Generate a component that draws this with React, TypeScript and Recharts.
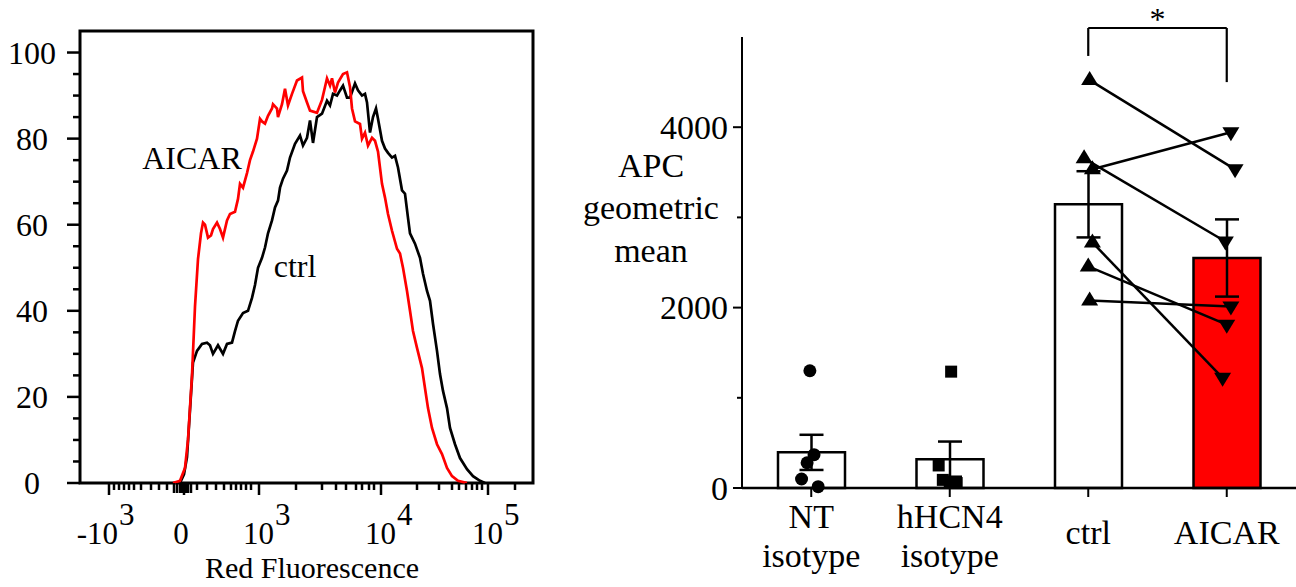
import {
  Bar,
  Cell,
  ComposedChart,
  ErrorBar,
  Line,
  ReferenceArea,
  ReferenceDot,
  ReferenceLine,
  Scatter,
  XAxis,
  YAxis,
} from "recharts";

const SERIF = '"Liberation Serif", "Times New Roman", serif';
const RED = "#ff0000";

// flow histogram, [display channel (biexponential), % of max]
const ctrlHist: [number, number][] = [
  [100, 0], [104, 2], [107, 6], [110, 17], [113, 28], [117, 30.7], [122, 32.3], [127, 32.6],
  [130, 32], [133, 30], [138, 32], [143, 30], [147, 32.3], [152, 32.6], [155, 35.3], [158, 37.7],
  [163, 39.5], [168, 40], [172, 43], [175, 46], [178, 50], [182, 52.3], [185, 54.7], [188, 58],
  [192, 61], [195, 64], [198, 65.6], [200, 68.6], [203, 70.7], [207, 72.6], [210, 75.6], [215, 78.8],
  [220, 80.7], [223, 78.4], [227, 80.2], [230, 84.2], [233, 79], [237, 85], [242, 85.8], [247, 88.8],
  [250, 87.7], [253, 90.4], [257, 90], [260, 91.2], [263, 92.3], [267, 89.5], [270, 89.5], [275, 92.8],
  [278, 91.2], [282, 90], [285, 90.4], [287, 88.4], [290, 81.4], [293, 85], [296, 87], [298, 84.6],
  [302, 79.5], [305, 77.7], [308, 76.7], [312, 75.6], [315, 76], [318, 73.3], [322, 68], [325, 67.2],
  [328, 61.6], [330, 58], [335, 55.6], [340, 52.3], [343, 48.6], [347, 44.6], [350, 42.3], [353, 37],
  [357, 30.7], [360, 25.3], [363, 21.4], [367, 17.4], [370, 12.8], [375, 9], [380, 5.8], [387, 3.2],
  [393, 1.6], [400, 0.5], [405, 0],
];

const aicarHist: [number, number][] = [
  [93, 0], [100, 0.5], [105, 3.5], [108, 10], [112, 25], [115, 41], [118, 52], [121, 58],
  [123, 60.5], [125, 60], [128, 57], [131, 57.5], [133, 59], [137, 60.5], [140, 59], [143, 57],
  [147, 61], [150, 62.5], [155, 63], [158, 66], [160, 69.5], [163, 68.6], [167, 72], [170, 75],
  [173, 77], [177, 80], [180, 84.6], [182, 84], [185, 83.5], [188, 85.3], [192, 87], [193, 88],
  [197, 87], [198, 85], [202, 88], [205, 91.6], [208, 87.7], [212, 90.4], [217, 93.5], [222, 94.2],
  [223, 91], [227, 88.4], [230, 86.5], [237, 86], [242, 89], [245, 92], [247, 94], [250, 92.3],
  [252, 94], [255, 90.7], [258, 93], [263, 95], [267, 95.4], [270, 92], [272, 87], [275, 84],
  [280, 83.4], [282, 80], [285, 81.4], [288, 78.4], [292, 80.2], [295, 79.5], [298, 77], [302, 69.5],
  [305, 66.3], [308, 62.5], [312, 58.6], [317, 54.4], [320, 53.3], [323, 50], [327, 44.6], [330, 40],
  [333, 35.3], [337, 31.4], [342, 26.7], [345, 22], [348, 17.4], [352, 12.8], [357, 9], [362, 6.7],
  [367, 3.5], [372, 1.6], [378, 0.5], [387, 0],
];

const histYTicks = [0, 5, 10, 15, 20, 25, 30, 35, 40, 45, 50, 55, 60, 65, 70, 75, 80, 85, 90, 95, 100];
const decadeTicks = [29, 104, 179, 301, 408];
const decadeBase = ["-10", "0", "10", "10", "10"];
const decadePow = ["3", "", "3", "4", "5"];
const zeroCluster = [94, 97, 100, 102, 106, 108, 111];
const minorTicks = [
  34, 39, 44, 49, 54, 61, 71, 79, 87, 117, 127, 136, 144, 151, 156, 161, 166, 171,
  216, 242, 256, 266, 276, 282, 289, 294, 337, 359, 372, 379, 386, 392, 397, 402, 435,
];

// APC geometric mean panel
const groups = ["NT isotype", "hHCN4 isotype", "ctrl", "AICAR"];
const groupMean = [395, 320, 3145, 2550];
const groupSem = [195, 195, 367, 428];
const apcTicks = [0, 1000, 2000, 3000, 4000];

const ntX = [0.49, 0.52, 0.47, 0.43, 0.55];
const ntY = [1300, 370, 280, 100, 15];
const hcnX = [1.51, 1.42, 1.45, 1.5, 1.55];
const hcnY = [1290, 250, 90, 60, 55];
// paired donors: ctrl[i] -> aicar[i]
const ctrlX = [2.51, 2.53, 2.47, 2.53, 2.5, 2.51];
const ctrlY = [4522, 3533, 3655, 2722, 2456, 2078];
const aicarX = [3.56, 3.53, 3.49, 3.47, 3.5, 3.53];
const aicarY = [3533, 3944, 2733, 1222, 1811, 2011];

const tickSet = new Set(decadeTicks);
const clusterSet = new Set(zeroCluster);

function HistXTick({ x, y, payload }: any) {
  const v = payload.value;
  const i = decadeTicks.indexOf(v);
  const len = tickSet.has(v) ? 12 : clusterSet.has(v) ? 10 : 7;
  const neg = decadeBase[i]?.startsWith("-");
  return (
    <g>
      <line x1={x} x2={x} y1={y} y2={y + len} stroke="#000" strokeWidth={2.5} />
      {i >= 0 && decadePow[i] === "" && (
        <text x={x - 3} y={y + 61} textAnchor="middle" fontSize={31} fontFamily={SERIF} fill="#000">
          {decadeBase[i]}
        </text>
      )}
      {i >= 0 && decadePow[i] !== "" && (
        <g fontSize={31} fontFamily={SERIF} fill="#000">
          <text x={x + (neg ? 9 : 15)} y={y + 61} textAnchor="end">{decadeBase[i]}</text>
          <text x={x + (neg ? 10 : 16)} y={y + 42} textAnchor="start">{decadePow[i]}</text>
        </g>
      )}
    </g>
  );
}

function HistYTick({ x, y, payload }: any) {
  const v = payload.value;
  const major = v % 20 === 0;
  return (
    <g>
      <line x1={x - (major ? 13 : 7)} x2={x} y1={y} y2={y} stroke="#000" strokeWidth={2.5} />
      {major && (
        <text x={x - 48} y={y} textAnchor="middle" dominantBaseline="central" fontSize={32} fontFamily={SERIF} fill="#000">
          {v}
        </text>
      )}
    </g>
  );
}

function HistTitle() {
  return (
    <text x={312} y={578} textAnchor="middle" fontSize={30} fontFamily={SERIF} fill="#000">
      Red Fluorescence
    </text>
  );
}

function Histogram() {
  const ctrl = ctrlHist.map(([ch, pct]) => ({ ch, pct }));
  const aicar = aicarHist.map(([ch, pct]) => ({ ch, pct }));
  const xTicks = [...decadeTicks, ...zeroCluster, ...minorTicks].sort((a, b) => a - b);
  return (
    <ComposedChart width={560} height={587} margin={{ top: 31, right: 27, bottom: 0, left: 0 }}>
      <XAxis
        dataKey="ch"
        type="number"
        domain={[0, 453]}
        ticks={xTicks}
        interval={0}
        tick={<HistXTick />}
        tickLine={false}
        axisLine={false}
        tickSize={0}
        tickMargin={0}
        height={104}
        label={<HistTitle />}
      />
      <YAxis
        type="number"
        domain={[0, 105]}
        ticks={histYTicks}
        interval={0}
        tick={<HistYTick />}
        tickLine={false}
        axisLine={false}
        tickSize={0}
        tickMargin={0}
        width={80}
      />
      <ReferenceArea x1={0} x2={453} y1={0} y2={105} fill="none" stroke="#000" strokeWidth={3} ifOverflow="visible" />
      <Line data={ctrl} dataKey="pct" type="linear" stroke="#000" strokeWidth={2.7} dot={false} isAnimationActive={false} />
      <Line data={aicar} dataKey="pct" type="linear" stroke={RED} strokeWidth={2.7} dot={false} isAnimationActive={false} />
      <ReferenceDot
        x={112}
        y={75.5}
        r={0}
        fill="none"
        stroke="none"
        label={{ value: "AICAR", position: "center", fontSize: 32, fill: "#000", fontFamily: SERIF }}
      />
      <ReferenceDot
        x={215}
        y={50.5}
        r={0}
        fill="none"
        stroke="none"
        label={{ value: "ctrl", position: "center", fontSize: 32, fill: "#000", fontFamily: SERIF }}
      />
    </ComposedChart>
  );
}

function ApcTick({ x, y, payload }: any) {
  const v = payload.value;
  const major = v % 2000 === 0;
  return (
    <g>
      <line x1={x - (major ? 9 : 5)} x2={x} y1={y} y2={y} stroke="#000" strokeWidth={2} />
      {major && (
        <text x={x - 14} y={y} textAnchor="end" dominantBaseline="central" fontSize={34} fontFamily={SERIF} fill="#000">
          {v}
        </text>
      )}
    </g>
  );
}

function GroupTick({ x, y, payload }: any) {
  const lines = String(payload.value).split(" ");
  return (
    <g fontSize={34} fontFamily={SERIF} fill="#000">
      <line x1={x} x2={x} y1={y} y2={y + 9} stroke="#000" strokeWidth={2} />
      {lines.length === 2 ? (
        <>
          <text x={x} y={y + 40} textAnchor="middle">{lines[0]}</text>
          <text x={x} y={y + 79} textAnchor="middle">{lines[1]}</text>
        </>
      ) : (
        <text x={x} y={y + 56} textAnchor="middle">{lines[0]}</text>
      )}
    </g>
  );
}

function ApcTitle() {
  return (
    <g fontSize={34} fontFamily={SERIF} fill="#000" textAnchor="middle">
      <text x={91} y={177}>APC</text>
      <text x={91} y={219}>geometric</text>
      <text x={91} y={262}>mean</text>
    </g>
  );
}

const circleShape = (p: any) => <circle cx={p.cx} cy={p.cy} r={6.5} fill="#000" />;
const squareShape = (p: any) => <rect x={p.cx - 6} y={p.cy - 6} width={12} height={12} fill="#000" />;
const upShape = (p: any) => (
  <polygon points={`${p.cx},${p.cy - 9} ${p.cx - 8.5},${p.cy + 5} ${p.cx + 8.5},${p.cy + 5}`} fill="#000" />
);
const downShape = (p: any) => (
  <polygon points={`${p.cx - 8.5},${p.cy - 5} ${p.cx + 8.5},${p.cy - 5} ${p.cx},${p.cy + 9}`} fill="#000" />
);

function ApcPanel() {
  const bars = groups.map((group, i) => ({ group, mean: groupMean[i], sem: groupSem[i] }));
  const nt = ntY.map((y, i) => ({ x: ntX[i], y }));
  const hcn = hcnY.map((y, i) => ({ x: hcnX[i], y }));
  const ctrl = ctrlY.map((y, i) => ({ x: ctrlX[i], y }));
  const aicar = aicarY.map((y, i) => ({ x: aicarX[i], y }));
  return (
    <ComposedChart width={736} height={587} data={bars} margin={{ top: 37, right: 0, bottom: 0, left: 0 }}>
      <XAxis
        xAxisId="cat"
        dataKey="group"
        type="category"
        height={99}
        interval={0}
        tick={<GroupTick />}
        tickLine={false}
        tickSize={0}
        tickMargin={0}
        axisLine={{ stroke: "#000", strokeWidth: 2.5 }}
      />
      <XAxis xAxisId="num" dataKey="x" type="number" domain={[0, 4]} hide />
      <YAxis
        type="number"
        domain={[0, 5000]}
        ticks={apcTicks}
        interval={0}
        width={182}
        tick={<ApcTick />}
        tickLine={false}
        tickSize={0}
        tickMargin={0}
        axisLine={{ stroke: "#000", strokeWidth: 2 }}
        label={<ApcTitle />}
      />
      <Bar xAxisId="cat" dataKey="mean" barSize={67} stroke="#000" strokeWidth={2.5} isAnimationActive={false}>
        {bars.map((b, i) => (
          <Cell key={b.group} fill={i === 3 ? RED : "#fff"} />
        ))}
        <ErrorBar dataKey="sem" width={12} stroke="#000" strokeWidth={2.5} direction="y" />
      </Bar>
      {ctrl.map((c, i) => (
        <Line
          key={i}
          xAxisId="num"
          data={[c, aicar[i]]}
          dataKey="y"
          type="linear"
          stroke="#000"
          strokeWidth={2.5}
          dot={false}
          isAnimationActive={false}
        />
      ))}
      <Scatter xAxisId="num" data={nt} dataKey="y" shape={circleShape} isAnimationActive={false} />
      <Scatter xAxisId="num" data={hcn} dataKey="y" shape={squareShape} isAnimationActive={false} />
      <Scatter xAxisId="num" data={ctrl} dataKey="y" shape={upShape} isAnimationActive={false} />
      <Scatter xAxisId="num" data={aicar} dataKey="y" shape={downShape} isAnimationActive={false} />
      <ReferenceLine xAxisId="num" segment={[{ x: 2.5, y: 4790 }, { x: 2.5, y: 5100 }]} stroke="#000" strokeWidth={2.2} ifOverflow="visible" />
      <ReferenceLine xAxisId="num" segment={[{ x: 2.5, y: 5100 }, { x: 3.5, y: 5100 }]} stroke="#000" strokeWidth={2.2} ifOverflow="visible" />
      <ReferenceLine xAxisId="num" segment={[{ x: 3.5, y: 5100 }, { x: 3.5, y: 4500 }]} stroke="#000" strokeWidth={2.2} ifOverflow="visible" />
      <ReferenceDot
        xAxisId="num"
        x={3}
        y={5200}
        r={0}
        fill="none"
        stroke="none"
        ifOverflow="visible"
        label={{ value: "*", position: "center", fontSize: 32, fill: "#000", fontFamily: SERIF }}
      />
    </ComposedChart>
  );
}

export default function App() {
  return (
    <div style={{ position: "fixed", left: 0, top: 0, width: 1296, height: 587, background: "#fff", overflow: "hidden" }}>
      <div style={{ position: "absolute", left: 0, top: 0 }}>
        <Histogram />
      </div>
      <div style={{ position: "absolute", left: 560, top: 0 }}>
        <ApcPanel />
      </div>
    </div>
  );
}
